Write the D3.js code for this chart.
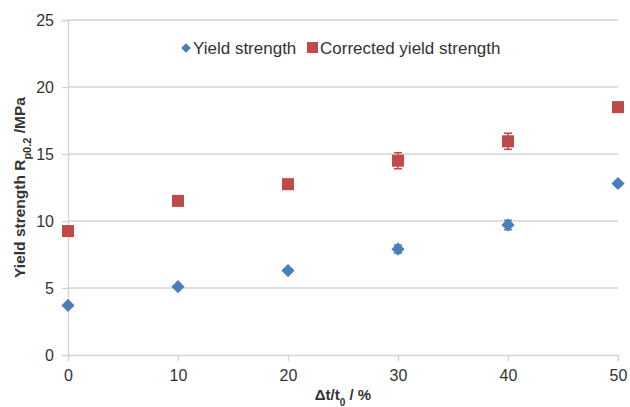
<!DOCTYPE html>
<html><head><meta charset="utf-8">
<script src="https://cdn.jsdelivr.net/npm/d3@7/dist/d3.min.js"></script>
<style>body{margin:0;background:#fff}svg{display:block}text{font-family:"Liberation Sans",Arial,sans-serif}</style>
</head><body><svg id="c" width="630" height="407"></svg>
<script>
const xValues = [0, 10, 20, 30, 40, 50];
const yieldStrength = [3.7, 5.1, 6.3, 7.9, 9.7, 12.8];
const yieldErr = [0.1, 0.1, 0.1, 0.3, 0.35, 0.15];
const correctedStrength = [9.25, 11.5, 12.75, 14.5, 15.95, 18.5];
const correctedErr = [0.1, 0.1, 0.15, 0.6, 0.6, 0.2];
const xTicks = [0, 10, 20, 30, 40, 50];
const yTicks = [0, 5, 10, 15, 20, 25];

const svg = d3.select("#c");
const m = {l: 68, r: 12, t: 20, b: 52};
const W = 630, H = 407;
const x = d3.scaleLinear().domain([0, 50]).range([m.l, W - m.r]);
const y = d3.scaleLinear().domain([0, 25]).range([H - m.b, m.t]);
const grid = "#d4d4d4", txt = "#333";
const blue = "#4a7ebb", red = "#be4b48";

// gridlines
svg.append("g").selectAll("line").data(yTicks.filter(d => d > 0)).join("line")
  .attr("x1", x(0)).attr("x2", x(50)).attr("y1", d => y(d)).attr("y2", d => y(d))
  .attr("stroke", grid).attr("stroke-width", 1.3);

// axes
const xAxis = svg.append("g").attr("transform", `translate(0,${y(0)})`)
  .call(d3.axisBottom(x).tickValues(xTicks).tickSize(6).tickPadding(6));
const yAxis = svg.append("g").attr("transform", `translate(${x(0)},0)`)
  .call(d3.axisLeft(y).tickValues(yTicks).tickSize(6).tickPadding(6));
[xAxis, yAxis].forEach(a => {
  a.select(".domain").attr("stroke", grid).attr("stroke-width", 1.3);
  a.selectAll(".tick line").attr("stroke", grid).attr("stroke-width", 1.3);
  a.selectAll(".tick text").attr("fill", txt).style("font-size", "16px")
    .style("font-family", '"Liberation Sans",Arial,sans-serif');
});
xAxis.selectAll(".tick text").attr("dy", "0.9em");
yAxis.selectAll(".tick text").attr("dx", "-2");

// error bars
function errBars(vals, errs, color) {
  const g = svg.append("g").attr("stroke", color).attr("stroke-width", 1.5);
  xValues.forEach((xv, i) => {
    const cx = x(xv), y1 = y(vals[i] - errs[i]), y2 = y(vals[i] + errs[i]);
    g.append("line").attr("x1", cx).attr("x2", cx).attr("y1", y1).attr("y2", y2);
    g.append("line").attr("x1", cx - 4).attr("x2", cx + 4).attr("y1", y1).attr("y2", y1);
    g.append("line").attr("x1", cx - 4).attr("x2", cx + 4).attr("y1", y2).attr("y2", y2);
  });
}
errBars(yieldStrength, yieldErr, blue);
errBars(correctedStrength, correctedErr, red);

// markers
const diamond = d3.symbol().type(d3.symbolDiamond2).size(110);
svg.append("g").selectAll("path").data(xValues).join("path")
  .attr("d", diamond)
  .attr("transform", (d, i) => `translate(${x(d)},${y(yieldStrength[i])})`)
  .attr("fill", blue);
svg.append("g").selectAll("rect").data(xValues).join("rect")
  .attr("x", d => x(d) - 6).attr("y", (d, i) => y(correctedStrength[i]) - 6)
  .attr("width", 12).attr("height", 12).attr("fill", red);

// legend
const lg = svg.append("g");
lg.append("path").attr("d", d3.symbol().type(d3.symbolDiamond2).size(60)())
  .attr("transform", "translate(186,48)").attr("fill", blue);
lg.append("text").attr("x", 193).attr("y", 54).attr("fill", txt).style("font-size", "17px").text("Yield strength");
lg.append("rect").attr("x", 307).attr("y", 42).attr("width", 11).attr("height", 11).attr("fill", red);
lg.append("text").attr("x", 320).attr("y", 54).attr("fill", txt).style("font-size", "17px").text("Corrected yield strength");

// axis titles
const xt = svg.append("text").attr("x", (x(0) + x(50)) / 2).attr("y", 400).attr("text-anchor", "middle")
  .attr("fill", txt).style("font-size", "15px").style("font-weight", "bold");
xt.append("tspan").text("Δt/t");
xt.append("tspan").attr("baseline-shift", "sub").style("font-size", "10px").text("0");
xt.append("tspan").text(" / %");

const yt = svg.append("text").attr("transform", `translate(25,${(y(0) + y(25)) / 2}) rotate(-90)`)
  .attr("text-anchor", "middle").attr("fill", txt).style("font-size", "15.5px").style("font-weight", "bold");
yt.append("tspan").text("Yield strength R");
yt.append("tspan").attr("baseline-shift", "sub").style("font-size", "11px").text("p0.2");
yt.append("tspan").text(" /MPa");
</script></body></html>
